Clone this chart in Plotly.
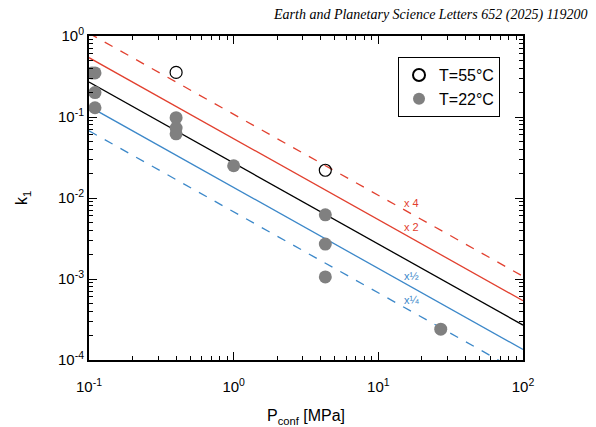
import plotly.graph_objects as go
import numpy as np

# Data
p_55 = [0.4, 4.3]
k_55 = [0.355, 0.022]
p_22 = [0.105, 0.11, 0.11, 0.11, 0.4, 0.4, 0.4, 1.0, 4.3, 4.3, 4.3, 27]
k_22 = [0.35, 0.35, 0.2, 0.13, 0.098, 0.073, 0.062, 0.025, 0.0062, 0.0027, 0.00106, 0.00024]

fit_coef = 0.027          # k1 = fit_coef / P
factors = [4, 2, 1, 0.5, 0.25]
factor_labels = ["x 4", "x 2", "", "x½", "x¼"]
p_line = [0.1, 100]

red = "#e2402f"
blue = "#3c88c9"
styles = {4: (red, "dash"), 2: (red, "solid"), 1: ("black", "solid"),
          0.5: (blue, "solid"), 0.25: (blue, "dash")}

fig = go.Figure()
for f in factors:
    c, d = styles[f]
    fig.add_trace(go.Scatter(x=p_line, y=[f * fit_coef / p for p in p_line], mode="lines",
                             line=dict(color=c, width=1.3, dash=d), showlegend=False,
                             hoverinfo="skip"))

fig.add_trace(go.Scatter(x=p_55, y=k_55, mode="markers", name="T=55°C",
                         marker=dict(symbol="circle-open", size=12, color="black",
                                     line=dict(width=1.2, color="black"))))
fig.add_trace(go.Scatter(x=p_22, y=k_22, mode="markers", name="T=22°C",
                         marker=dict(symbol="circle", size=13, color="#808080")))

label_p = 17
for f, lab in zip(factors, factor_labels):
    if not lab:
        continue
    c, _ = styles[f]
    fig.add_annotation(x=np.log10(label_p), y=np.log10(f * fit_coef / label_p), text=lab,
                       showarrow=False, font=dict(color=c, size=11, family="Liberation Sans"),
                       xanchor="center", yanchor="bottom", yshift=3)

fig.add_annotation(xref="paper", yref="paper", x=1.154, y=1.065, xanchor="right", yanchor="middle",
                   text="<i>Earth and Planetary Science Letters 652 (2025) 119200</i>",
                   showarrow=False, font=dict(family="Liberation Serif", size=14, color="black"))

xt = [0.1, 1, 10, 100]
xtt = ["10<sup>-1</sup>", "10<sup>0</sup>", "10<sup>1</sup>", "10<sup>2</sup>"]
yt = [1e-4, 1e-3, 1e-2, 1e-1, 1]
ytt = ["10<sup>-4</sup>", "10<sup>-3</sup>", "10<sup>-2</sup>", "10<sup>-1</sup>", "10<sup>0</sup>"]

def minor_vals(lo, hi):
    return [m * 10.0 ** e for e in range(lo, hi) for m in range(2, 10)]

axis_common = dict(showline=True, linecolor="black", linewidth=2, mirror="allticks",
                   ticks="inside", ticklen=8, tickwidth=1, tickcolor="black",
                   showgrid=False, zeroline=False, automargin=False,
                   tickfont=dict(family="Liberation Sans", size=15, color="black"))

fig.update_xaxes(type="log", range=[-1, 2], tickvals=xt, ticktext=xtt, ticklabelstandoff=12,
                 minor=dict(ticks="inside", ticklen=4, tickcolor="black", tickwidth=1,
                            tickvals=minor_vals(-1, 2), showgrid=False),
                 title=dict(text="P<sub>conf</sub> [MPa]", font=dict(family="Liberation Sans", size=16, color="black"), standoff=16),
                 **axis_common)
fig.update_yaxes(type="log", range=[-4, 0], tickvals=yt, ticktext=ytt,
                 minor=dict(ticks="inside", ticklen=4, tickcolor="black", tickwidth=1,
                            tickvals=minor_vals(-4, 0), showgrid=False),
                 title=dict(text="k<sub>1</sub>", font=dict(family="Liberation Sans", size=16, color="black"), standoff=26),
                 **axis_common)

fig.update_layout(width=596, height=427, margin=dict(l=81, r=81, t=28, b=75),
                  plot_bgcolor="white", paper_bgcolor="white",
                  legend=dict(x=0.712, y=0.935, xanchor="left", yanchor="top",
                              bordercolor="black", borderwidth=1, bgcolor="white",
                              font=dict(family="Liberation Sans", size=16, color="black"),
                              tracegroupgap=0, itemsizing="constant"))

fig.write_html("out.html")
